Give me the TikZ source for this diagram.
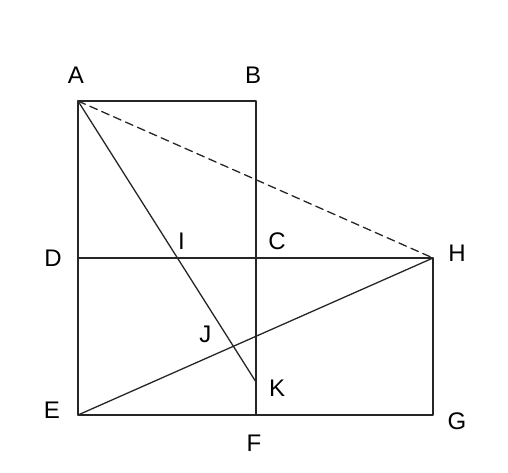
\documentclass[tikz,border=0pt]{standalone}
\usepackage{fontspec}
\setmainfont{Liberation Sans}
\usetikzlibrary{positioning,calc}
\tikzset{>=latex}
\colorlet{myline}{black!85}
\tikzstyle{pline}=[myline,line width=1.3pt,line cap=round,line join=round]
\tikzstyle{dline}=[pline,dash pattern=on 8pt off 5pt]
\tikzstyle{plabel}=[inner sep=0pt,font=\fontsize{24}{28}\selectfont]

\begin{document}
\begin{tikzpicture}[x=1pt,y=1pt]
      \useasboundingbox (0,0) rectangle (508,472);
      \def\xl{78}
      \def\xm{256}
      \def\xr{433}
      \coordinate (A) at (\xl,371);
      \coordinate (B) at (\xm,371);
      \coordinate (D) at (\xl,214);
      \coordinate (C) at (\xm,214);
      \coordinate (H) at (\xr,214);
      \coordinate (E) at (\xl,57);
      \coordinate (F) at (\xm,57);
      \coordinate (G) at (\xr,57);
      \coordinate (K) at (\xm,90);
      \coordinate (I) at (intersection of A--K and D--H);
      \coordinate (J) at (intersection of A--K and E--H);
      
      % SQUARES
      \draw[pline] (A) -- (B) -- (F);
      \draw[pline] (A) -- (E) -- (G) -- (H) -- (D);
      
      % DIAGONALS
      \draw[pline] (A) -- (K);
      \draw[pline] (E) -- (H);
      \draw[dline] (A) -- (H);
      
      % LABELS
      \node[plabel] (lA) at ($(A)+(-2,26)$) {A};
      \node[plabel] (lB) at ($(B)+(-3,26)$) {B};
      \node[plabel] (lD) at ($(D)+(-25,0)$) {D};
      \node[plabel] (lI) at ($(I)+(4,17)$) {I};
      \node[plabel] (lC) at ($(C)+(21,17)$) {C};
      \node[plabel] (lH) at ($(H)+(24,5)$) {H};
      \node[plabel] (lJ) at ($(J)+(-28,12)$) {J};
      \node[plabel] (lK) at ($(K)+(21,-6)$) {K};
      \node[plabel] (lE) at ($(E)+(-26,5)$) {E};
      \node[plabel] (lF) at ($(F)+(-2,-28)$) {F};
      \node[plabel] (lG) at ($(G)+(24,-6)$) {G};
      
    \end{tikzpicture}
\end{document}
